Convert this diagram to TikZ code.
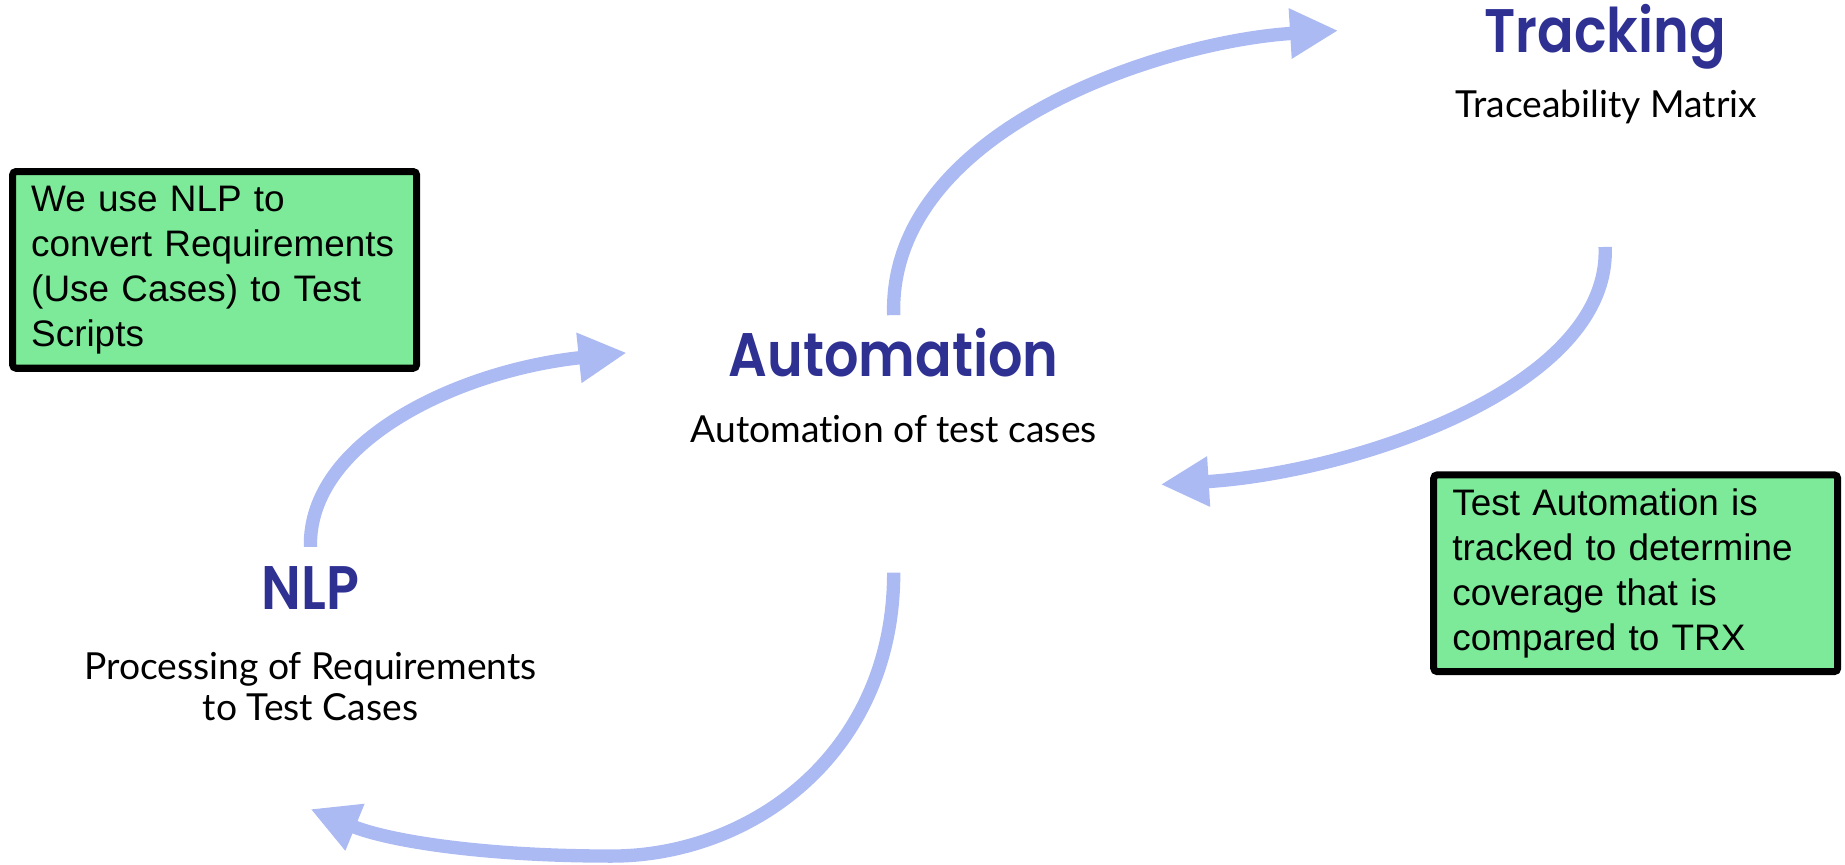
\documentclass[tikz,border=0pt]{standalone}
\usepackage{fontspec}
\setmainfont{Lato}[Ligatures={NoCommon,NoRare}]
\newfontfamily\headfont{Poppins SemiBold}[FakeStretch=0.88]
\newfontfamily\notefont{Liberation Sans}
\usetikzlibrary{arrows.meta}
\definecolor{headblue}{RGB}{46,49,146}
\definecolor{flowblue}{RGB}{172,186,243}
\definecolor{notegreen}{RGB}{124,234,152}
\tikzset{
  heading/.style={font=\headfont\fontsize{17.5}{20}\selectfont, text=headblue, anchor=base, inner sep=0pt},
  subtext/.style={font=\fontsize{10.6}{11.7}\selectfont, anchor=base, align=center, inner sep=0pt},
  notebox/.style={draw=black, line width=2pt, fill=notegreen, rounded corners=1pt,
    minimum width=115pt, minimum height=56pt, text width=104.4pt, align=left,
    font=\notefont\fontsize{10.5}{12.8}\selectfont},
  flow/.style={draw=flowblue, line width=3.8pt, -{Triangle[length=13.7pt,width=13.4pt]}}
}

\begin{document}
\begin{tikzpicture}[x=0.01176cm, y=-0.01176cm]
            \useasboundingbox (0,0) rectangle (1569,735);
            % titles
            \node[heading] (track) at (1365,45) {Tracking};
            \node[subtext] (tracksub) at (1366,100) {Traceability Matrix};
            \node[heading] (auto) at (760,320) {Automation};
            \node[subtext] (autosub) at (760,376) {Automation of test cases};
            \node[heading] (nlp) at (264,518) {NLP};
            \node[subtext] (nlpsub) at (264,613) {Processing of Requirements\\to Test Cases};
            % notes
            \node[notebox] (noteleft) at (182.5,229.5) {We use NLP to\\convert Requirements\\(Use Cases) to Test\\Scripts};
            \node[notebox] (noteright) at (1391,487.5) {Test Automation is\\tracked to determine\\coverage that is\\compared to TRX};
            % arrow ends
            \coordinate (nlpout) at (264,465);
            \coordinate (autoin) at (533,300);
            \coordinate (autoout) at (760,268);
            \coordinate (trackin) at (1138,26);
            \coordinate (trackout) at (1365,210);
            \coordinate (autoback) at (987,412);
            \coordinate (autodown) at (760,487);
            \coordinate (nlpin) at (264,688);
            \draw[flow] (nlpout) .. controls (262,375) and (390,315) .. (autoin);
            \draw[flow] (autoout) .. controls (755,110) and (990,35) .. (trackin);
            \draw[flow] (trackout) .. controls (1370,330) and (1150,402) .. (autoback);
            \draw[flow] (autodown) .. controls (760,640) and (640,728) .. (520,728)
                .. controls (410,728) and (330,715) .. (nlpin);
        \end{tikzpicture}
\end{document}
